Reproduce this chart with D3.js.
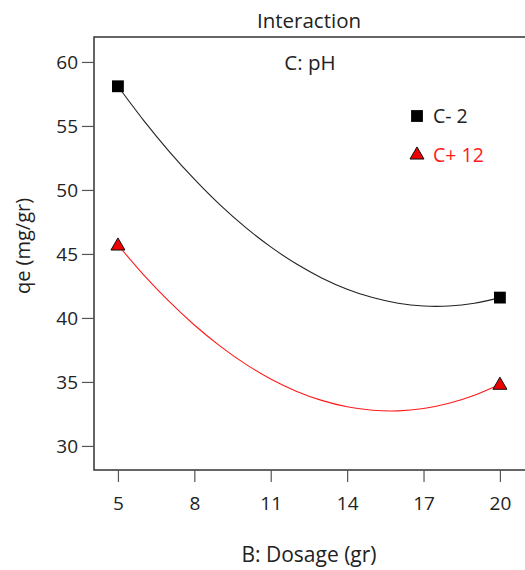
<!DOCTYPE html>
<html>
<head>
<meta charset="utf-8">
<script src="https://cdn.jsdelivr.net/npm/d3@7"></script>
<style>
  body { margin: 0; background: #fff; }
  svg { display: block; font-family: "Open Sans", "Noto Sans", sans-serif; }
</style>
</head>
<body>
<div id="chart"></div>
<script>
// curve readings (dosage -> qe) for each pH level
const dosage = [5, 6, 7, 8, 9, 10, 11, 12, 13, 14, 15, 16, 17, 18, 19, 20];
const lowPH  = [58.10, 55.46, 53.04, 50.84, 48.85, 47.09, 45.55, 44.23, 43.13, 42.25, 41.59, 41.15, 40.93, 40.93, 41.15, 41.59];
const highPH = [45.70, 43.39, 41.31, 39.45, 37.82, 36.41, 35.23, 34.28, 33.56, 33.06, 32.79, 32.74, 32.92, 33.33, 33.96, 34.82];
const designX = [5, 20];
const xTicks = [5, 8, 11, 14, 17, 20];
const yTicks = [30, 35, 40, 45, 50, 55, 60];
const legendLabels = ['C- 2', 'C+ 12'];

const width = 525, height = 570;
const plotL = 94, plotT = 37, plotR = 532, plotB = 470;

const svg = d3.select('#chart').append('svg')
    .attr('width', width)
    .attr('height', height);

const x = d3.scaleLinear().domain([4.06, 21.26]).range([plotL, plotR]);
const y = d3.scaleLinear().domain([28.12, 61.95]).range([plotB, plotT]);

// frame
svg.append('rect')
    .attr('x', plotL).attr('y', plotT)
    .attr('width', plotR - plotL).attr('height', plotB - plotT)
    .attr('fill', 'none').attr('stroke', '#333').attr('stroke-width', 1.5);

// axes
const yAxis = svg.append('g')
    .attr('transform', `translate(${plotL},0)`)
    .call(d3.axisLeft(y).tickValues(yTicks).tickSize(12).tickPadding(4));
const xAxis = svg.append('g')
    .attr('transform', `translate(0,${plotB})`)
    .call(d3.axisBottom(x).tickValues(xTicks).tickSize(12).tickPadding(15));

[xAxis, yAxis].forEach(g => {
    g.select('.domain').remove();
    g.selectAll('line').attr('stroke', '#555').attr('stroke-width', 1.2);
    g.selectAll('text').attr('font-size', 19).attr('fill', '#222')
        .attr('font-family', '"Open Sans", "Noto Sans", sans-serif');
});

// titles
svg.append('text').attr('x', 309).attr('y', 28).attr('text-anchor', 'middle')
    .attr('font-size', 20.5).attr('fill', '#222').text('Interaction');
svg.append('text').attr('x', 310).attr('y', 70).attr('text-anchor', 'middle')
    .attr('font-size', 20.5).attr('fill', '#222').text('C: pH');
svg.append('text').attr('x', 309).attr('y', 562).attr('text-anchor', 'middle')
    .attr('font-size', 21).attr('fill', '#222').text('B: Dosage (gr)');
svg.append('text')
    .attr('transform', 'translate(30,246) rotate(-90)')
    .attr('text-anchor', 'middle')
    .attr('font-size', 20).attr('fill', '#222').text('qe (mg/gr)');

// curves
const line = d3.line()
    .x((d, i) => x(dosage[i]))
    .y(d => y(d))
    .curve(d3.curveCatmullRom);

svg.append('path').datum(lowPH)
    .attr('d', line).attr('fill', 'none')
    .attr('stroke', '#222').attr('stroke-width', 1.1);
svg.append('path').datum(highPH)
    .attr('d', line).attr('fill', 'none')
    .attr('stroke', '#ff1a1a').attr('stroke-width', 1.1);

// design point markers
const square = d3.symbol().type(d3.symbolSquare).size(140);
const triangle = d3.symbol().type(d3.symbolTriangle).size(85);

designX.forEach(dx => {
    const i = dosage.indexOf(dx);
    svg.append('path').attr('d', square)
        .attr('transform', `translate(${x(dx)},${y(lowPH[i])})`)
        .attr('fill', '#000');
    svg.append('path').attr('d', triangle)
        .attr('transform', `translate(${x(dx)},${y(highPH[i]) + 1})`)
        .attr('fill', '#e00').attr('stroke', '#111').attr('stroke-width', 1);
});

// legend
svg.append('path').attr('d', square)
    .attr('transform', 'translate(417,116)').attr('fill', '#000');
svg.append('text').attr('x', 433).attr('y', 123)
    .attr('font-size', 19.5).attr('fill', '#222').text(legendLabels[0]);
svg.append('path').attr('d', triangle)
    .attr('transform', 'translate(417,155)')
    .attr('fill', '#e00').attr('stroke', '#111').attr('stroke-width', 1);
svg.append('text').attr('x', 433).attr('y', 162)
    .attr('font-size', 19.5).attr('fill', '#ff1a1a').text(legendLabels[1]);
</script>
</body>
</html>
